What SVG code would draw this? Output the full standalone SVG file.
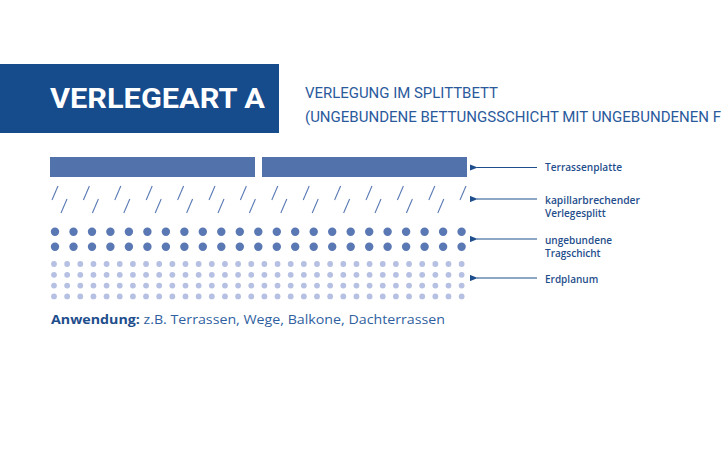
<svg xmlns="http://www.w3.org/2000/svg" width="725" height="460" viewBox="0 0 725 460">
<style>
.hd{font-family:Roboto,"Liberation Sans",sans-serif;fill:#2a5a9c;font-size:14px}
.lbl{font-family:"Open Sans","Liberation Sans",sans-serif;font-weight:600;font-size:10px;fill:#1f4e8c}
.slab{fill:#5272ac}
.sl{stroke:#5a7ab4;stroke-width:1.1}
.big{fill:#5a78b4}
.small{fill:#b6c0e2}
.arr{stroke:#1f4e8c;stroke-width:1.2;fill:none}
</style>
<defs>
<marker id="ah" viewBox="0 0 10 8" refX="1" refY="4" markerWidth="8" markerHeight="6.4" markerUnits="userSpaceOnUse" orient="auto-start-reverse">
<path d="M0,4 L10,0 L10,8 Z" fill="#1f4e8c"/>
</marker>
<line id="s" x1="0" y1="14" x2="6" y2="0" class="sl"/>
<circle id="b" r="4.2" class="big"/>
<circle id="d" r="2.9" class="small"/>
</defs>
<rect width="725" height="460" fill="#fff"/>
<g id="title">
<rect x="0" y="64" width="279" height="69" fill="#164b8c"/>
<text x="50" y="108" font-family="Roboto,'Liberation Sans',sans-serif" font-weight="bold" font-size="28" fill="#fff" textLength="215" lengthAdjust="spacingAndGlyphs">VERLEGEART A</text>
</g>
<g id="heading">
<text class="hd" x="305" y="98" textLength="193" lengthAdjust="spacingAndGlyphs">VERLEGUNG IM SPLITTBETT</text>
<text class="hd" x="305" y="122" textLength="416" lengthAdjust="spacingAndGlyphs">(UNGEBUNDENE BETTUNGSSCHICHT MIT UNGEBUNDENEN F</text>
</g>
<g id="terrassenplatte">
<rect class="slab" x="50" y="157" width="205" height="20"/>
<rect class="slab" x="262" y="157" width="205" height="20"/>
</g>
<g id="verlegesplitt">
<use href="#s" x="52" y="186"/><use href="#s" x="83.4" y="186"/><use href="#s" x="114.8" y="186"/><use href="#s" x="146.2" y="186"/><use href="#s" x="177.6" y="186"/><use href="#s" x="209" y="186"/><use href="#s" x="240.4" y="186"/><use href="#s" x="271.8" y="186"/><use href="#s" x="303.2" y="186"/><use href="#s" x="334.6" y="186"/><use href="#s" x="366" y="186"/><use href="#s" x="397.4" y="186"/><use href="#s" x="428.8" y="186"/><use href="#s" x="460" y="186"/>
<use href="#s" x="61" y="199"/><use href="#s" x="92.4" y="199"/><use href="#s" x="123.8" y="199"/><use href="#s" x="155.2" y="199"/><use href="#s" x="186.6" y="199"/><use href="#s" x="218" y="199"/><use href="#s" x="249.4" y="199"/><use href="#s" x="280.8" y="199"/><use href="#s" x="312.2" y="199"/><use href="#s" x="343.6" y="199"/><use href="#s" x="375" y="199"/><use href="#s" x="406.4" y="199"/><use href="#s" x="437.8" y="199"/>
</g>
<g id="tragschicht">
<g id="bigrow">
<use href="#b" x="55" y="231.7"/><use href="#b" x="73.5" y="231.7"/><use href="#b" x="92" y="231.7"/><use href="#b" x="110.4" y="231.7"/><use href="#b" x="128.9" y="231.7"/><use href="#b" x="147.4" y="231.7"/><use href="#b" x="165.9" y="231.7"/><use href="#b" x="184.4" y="231.7"/><use href="#b" x="202.8" y="231.7"/><use href="#b" x="221.3" y="231.7"/><use href="#b" x="239.8" y="231.7"/><use href="#b" x="258.3" y="231.7"/><use href="#b" x="276.8" y="231.7"/><use href="#b" x="295.2" y="231.7"/><use href="#b" x="313.7" y="231.7"/><use href="#b" x="332.2" y="231.7"/><use href="#b" x="350.7" y="231.7"/><use href="#b" x="369.2" y="231.7"/><use href="#b" x="387.6" y="231.7"/><use href="#b" x="406.1" y="231.7"/><use href="#b" x="424.6" y="231.7"/><use href="#b" x="443.1" y="231.7"/><use href="#b" x="461.6" y="231.7"/>
</g>
<use href="#bigrow" y="15"/>
</g>
<g id="erdplanum">
<g id="smallrow">
<use href="#d" x="54" y="264"/><use href="#d" x="67.15" y="264"/><use href="#d" x="80.3" y="264"/><use href="#d" x="93.45" y="264"/><use href="#d" x="106.6" y="264"/><use href="#d" x="119.75" y="264"/><use href="#d" x="132.9" y="264"/><use href="#d" x="146.05" y="264"/><use href="#d" x="159.2" y="264"/><use href="#d" x="172.35" y="264"/><use href="#d" x="185.5" y="264"/><use href="#d" x="198.65" y="264"/><use href="#d" x="211.8" y="264"/><use href="#d" x="224.95" y="264"/><use href="#d" x="238.1" y="264"/><use href="#d" x="251.25" y="264"/><use href="#d" x="264.4" y="264"/><use href="#d" x="277.55" y="264"/><use href="#d" x="290.7" y="264"/><use href="#d" x="303.85" y="264"/><use href="#d" x="317" y="264"/><use href="#d" x="330.15" y="264"/><use href="#d" x="343.3" y="264"/><use href="#d" x="356.45" y="264"/><use href="#d" x="369.6" y="264"/><use href="#d" x="382.75" y="264"/><use href="#d" x="395.9" y="264"/><use href="#d" x="409.05" y="264"/><use href="#d" x="422.2" y="264"/><use href="#d" x="435.35" y="264"/><use href="#d" x="448.5" y="264"/><use href="#d" x="461.65" y="264"/>
</g>
<use href="#smallrow" y="10.8"/>
<use href="#smallrow" y="21.6"/>
<use href="#smallrow" y="32.4"/>
</g>
<g id="connectors">
<line class="arr" x1="477" y1="167.5" x2="537" y2="167.5" marker-start="url(#ah)"/>
<line class="arr" x1="477" y1="199" x2="537" y2="199" marker-start="url(#ah)"/>
<line class="arr" x1="477" y1="239" x2="537" y2="239" marker-start="url(#ah)"/>
<line class="arr" x1="477" y1="278" x2="537" y2="278" marker-start="url(#ah)"/>
</g>
<g id="labels">
<text class="lbl" x="545" y="170.5" textLength="77" lengthAdjust="spacingAndGlyphs">Terrassenplatte</text>
<text class="lbl" x="545" y="204" textLength="95" lengthAdjust="spacingAndGlyphs">kapillarbrechender</text>
<text class="lbl" x="545" y="217">Verlegesplitt</text>
<text class="lbl" x="545" y="244">ungebundene</text>
<text class="lbl" x="545" y="257">Tragschicht</text>
<text class="lbl" x="545" y="283">Erdplanum</text>
</g>
<g id="anwendung">
<text x="51" y="324" font-family="'Open Sans','Liberation Sans',sans-serif" font-size="13" fill="#2f5f9f" textLength="394" lengthAdjust="spacingAndGlyphs"><tspan font-weight="bold" fill="#1f4e8c">Anwendung:</tspan> z.B. Terrassen, Wege, Balkone, Dachterrassen</text>
</g>
</svg>
